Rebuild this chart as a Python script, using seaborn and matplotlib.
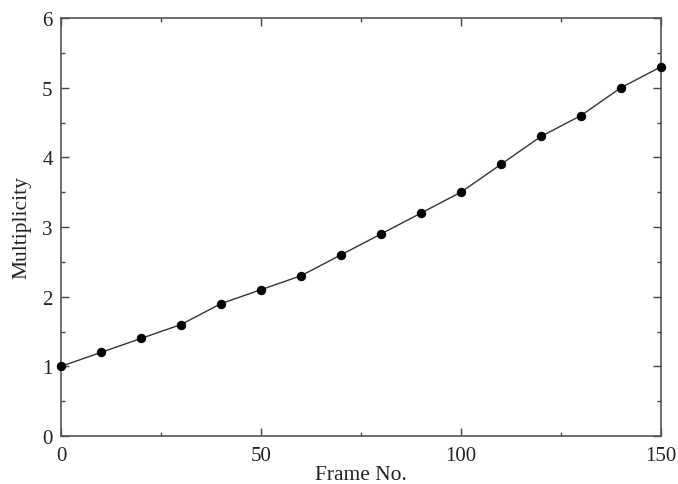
import matplotlib
matplotlib.use("Agg")
import matplotlib.pyplot as plt
import seaborn as sns
import pandas as pd
from matplotlib.ticker import MultipleLocator

frames = [0, 10, 20, 30, 40, 50, 60, 70, 80, 90, 100, 110, 120, 130, 140, 150]
multiplicity = [1.0, 1.2, 1.4, 1.6, 1.9, 2.1, 2.3, 2.6, 2.9, 3.2, 3.5, 3.9, 4.3, 4.6, 5.0, 5.3]

df = pd.DataFrame({"Frame No.": frames, "Multiplicity": multiplicity})

sns.set_theme(style="ticks")
plt.rcParams['font.family'] = ['Liberation Serif', 'DejaVu Serif']

fig = plt.figure(figsize=(6.78, 4.85), dpi=100)
ax = fig.add_axes([61/678, 1 - 437/485, 600/678, 418/485])

sns.lineplot(data=df, x="Frame No.", y="Multiplicity", ax=ax, color="#333333",
             linewidth=1.0, marker="o", markersize=6, markerfacecolor="black",
             markeredgecolor="black", clip_on=False, zorder=5)

ax.set_xlim(0, 150)
ax.set_ylim(0, 6)
ax.xaxis.set_major_locator(MultipleLocator(50))
ax.xaxis.set_minor_locator(MultipleLocator(25))
ax.yaxis.set_major_locator(MultipleLocator(1))
ax.yaxis.set_minor_locator(MultipleLocator(0.5))
ax.tick_params(which="both", direction="in", top=True, right=True, colors="#444444",
               labelcolor="#222222", labelsize=15)
ax.tick_params(which="major", length=6, width=1)
ax.tick_params(which="minor", length=3, width=1)
ax.tick_params(axis="x", which="major", pad=7)
ax.tick_params(axis="y", which="major", pad=6)
for s in ax.spines.values():
    s.set_color("#555555")
    s.set_linewidth(1.2)
ax.set_xlabel("Frame No.", fontsize=15.5, color="#222222", labelpad=0)
ax.set_ylabel("Multiplicity", fontsize=15.5, color="#222222", labelpad=8)

fig.savefig("out.png", dpi=100)
